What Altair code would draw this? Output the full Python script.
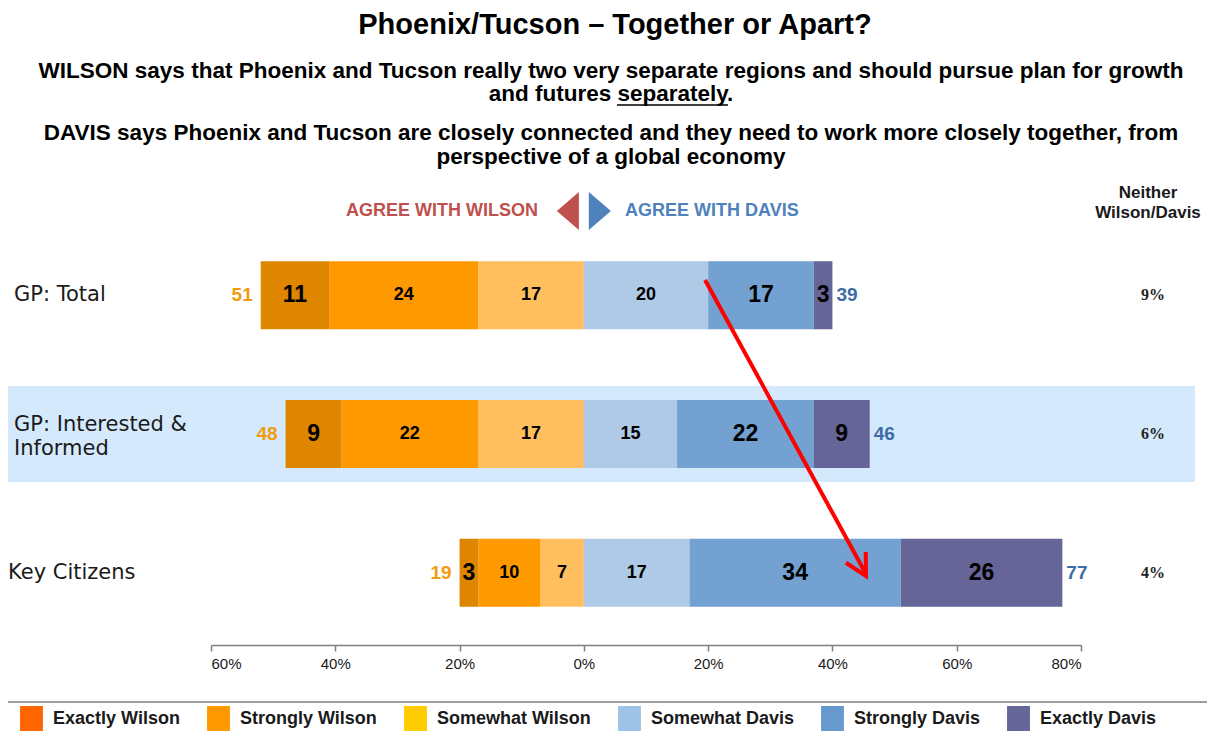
import altair as alt
import pandas as pd

# ---------------- data ----------------
rows = ["GP: Total", "GP: Interested & Informed", "Key Citizens"]
row_labels = ["GP: Total", "GP: Interested &\nInformed", "Key Citizens"]
categories = ["Exactly Wilson", "Strongly Wilson", "Somewhat Wilson",
              "Somewhat Davis", "Strongly Davis", "Exactly Davis"]
exactly_wilson = [11, 9, 3]
strongly_wilson = [24, 22, 10]
somewhat_wilson = [17, 17, 7]
somewhat_davis = [20, 15, 17]
strongly_davis = [17, 22, 34]
exactly_davis = [3, 9, 26]
total_wilson = [51, 48, 19]
total_davis = [39, 46, 77]
neither = ["9%", "6%", "4%"]
x_ticks = [-60, -40, -20, 0, 20, 40, 60, 80]

title_text = "Phoenix/Tucson \u2013 Together or Apart?"
wilson_lines = ["WILSON says that Phoenix and Tucson really two very separate regions and should pursue plan for growth",
                "and futures separately."]
davis_lines = ["DAVIS says Phoenix and Tucson are closely connected and they need to work more closely together, from",
               "perspective of a global economy"]

bar_colors = ["#DF8600", "#FF9900", "#FFBF5F", "#AFCAE6", "#72A1D2", "#656598"]
legend_colors = ["#FF6600", "#FF9900", "#FFCC00", "#9DC3E6", "#6699CC", "#666699"]
big_cats = ["Exactly Wilson", "Strongly Davis", "Exactly Davis"]

# arrow annotation (in axis units)
arrow_x = [19.5, 45.4]

# ---------------- tables ----------------
seg = []
for i, r in enumerate(rows):
    pos = 0
    for n, v in zip(["Somewhat Wilson", "Strongly Wilson", "Exactly Wilson"],
                    [somewhat_wilson[i], strongly_wilson[i], exactly_wilson[i]]):
        seg.append(dict(row=r, cat=n, value=v, start=-pos - v, end=-pos))
        pos += v
    pos = 0
    for n, v in zip(["Somewhat Davis", "Strongly Davis", "Exactly Davis"],
                    [somewhat_davis[i], strongly_davis[i], exactly_davis[i]]):
        seg.append(dict(row=r, cat=n, value=v, start=pos, end=pos + v))
        pos += v
seg = pd.DataFrame(seg)
seg["mid"] = (seg["start"] + seg["end"]) / 2
seg["big"] = seg["cat"].isin(big_cats)

tot = pd.DataFrame({
    "row": rows,
    "label": row_labels,
    "tw": total_wilson,
    "td": total_davis,
    "neither": neither,
    "left": [-(a + b + c) for a, b, c in zip(exactly_wilson, strongly_wilson, somewhat_wilson)],
    "right": [a + b + c for a, b, c in zip(somewhat_davis, strongly_davis, exactly_davis)],
})

legend_df = pd.DataFrame({"cat": categories})

SANS = "Liberation Sans"

xs = alt.Scale(domain=[-60, 80], range=[203, 1073], nice=False, zero=False, clamp=False)
ys = alt.Scale(domain=rows, range=[218, 634], paddingInner=0, paddingOuter=0)
Y = alt.Y("row:N", scale=ys, axis=None)

one = pd.DataFrame({"k": [0]})

# background band
band = alt.Chart(tot).transform_filter(alt.datum.row == rows[1]).mark_bar(
    size=96, orient="horizontal", color="#D5E9FC").encode(
    x=alt.value(0), x2=alt.value(1187), y=Y)

bars = alt.Chart(seg).mark_bar(size=68, orient="horizontal").encode(
    x=alt.X("start:Q", scale=xs,
            axis=alt.Axis(values=x_ticks, labelExpr="abs(datum.value) + '%'", title=None,
                          grid=False, domainColor="#7F7F7F", domainWidth=1.5,
                          tickColor="#7F7F7F", tickSize=6, tickWidth=1.5, labelPadding=5,
                          labelFont=SANS, labelFontSize=15, labelColor="#1a1a1a")),
    x2="end:Q",
    y=Y,
    color=alt.Color("cat:N", scale=alt.Scale(domain=categories, range=bar_colors), legend=None),
)

legend_dummy = alt.Chart(legend_df).mark_square(size=0, opacity=1, filled=True).encode(
    x=alt.value(600),
    y=alt.value(600),
    color=alt.Color("cat:N", scale=alt.Scale(domain=categories, range=legend_colors),
                    sort=categories,
                    legend=alt.Legend(orient="none", legendX=10.5, legendY=698,
                                      direction="horizontal", columns=6, columnPadding=25,
                                      symbolType="M-0.88,-1H0.88V1H-0.88Z", symbolSize=676,
                                      symbolStrokeWidth=0, symbolOpacity=1,
                                      labelFont=SANS, labelFontSize=18, labelFontWeight="bold",
                                      labelColor="#1a1a1a", labelOffset=8.5, labelLimit=300,
                                      title=None, padding=0)),
)

seg_big = alt.Chart(seg).transform_filter(alt.datum.big).mark_text(
    font=SANS, fontSize=23, fontWeight="bold", color="#000000", baseline="middle").encode(
    x=alt.X("mid:Q", scale=xs), y=Y, text="value:Q")
seg_small = alt.Chart(seg).transform_filter(~alt.datum.big).mark_text(
    font=SANS, fontSize=18, fontWeight="bold", color="#000000", baseline="middle").encode(
    x=alt.X("mid:Q", scale=xs), y=Y, text="value:Q")

tw_text = alt.Chart(tot).mark_text(font=SANS, fontSize=19, fontWeight="bold", color="#F29B0E",
                                   align="right", baseline="middle", dx=-8).encode(
    x=alt.X("left:Q", scale=xs), y=Y, text="tw:Q")
td_text = alt.Chart(tot).mark_text(font=SANS, fontSize=19, fontWeight="bold", color="#3C6DA6",
                                   align="left", baseline="middle", dx=4).encode(
    x=alt.X("right:Q", scale=xs), y=Y, text="td:Q")

row_lab_a = alt.Chart(tot).transform_filter(alt.datum.row == rows[0]).mark_text(
    font="DejaVu Sans", fontSize=21, color="#1a1a1a", align="left", baseline="middle").encode(
    x=alt.value(6), y=Y, text="label:N")
row_lab_b = alt.Chart(tot).transform_filter(alt.datum.row == rows[1]).mark_text(
    font="DejaVu Sans", fontSize=21, color="#1a1a1a", align="left", baseline="middle",
    lineBreak="\n", lineHeight=24, dy=-9).encode(x=alt.value(6), y=Y, text="label:N")
row_lab_c = alt.Chart(tot).transform_filter(alt.datum.row == rows[2]).mark_text(
    font="DejaVu Sans", fontSize=21, color="#1a1a1a", align="left", baseline="middle").encode(
    x=alt.value(0), y=Y, text="label:N")

neither_text = alt.Chart(tot).mark_text(font="Liberation Serif", fontSize=16, fontWeight="bold",
                                        color="#222222", baseline="middle").encode(
    x=alt.value(1145), y=Y, text="neither:N")
neither_head = alt.Chart(one).mark_text(font=SANS, fontSize=17, fontWeight="bold", color="#1a1a1a",
                                        baseline="middle", lineHeight=20).encode(
    x=alt.value(1140), y=alt.value(185), text=alt.value(["Neither", "Wilson/Davis"]))

title = alt.Chart(one).mark_text(font=SANS, fontSize=29, fontWeight="bold", color="#000000",
                                 baseline="middle").encode(
    x=alt.value(607), y=alt.value(16.5), text=alt.value(title_text))
sub1 = alt.Chart(one).mark_text(font=SANS, fontSize=22.5, fontWeight="bold", color="#000000",
                                baseline="middle", lineHeight=23).encode(
    x=alt.value(603), y=alt.value(63), text=alt.value(wilson_lines))
sub2 = alt.Chart(one).mark_text(font=SANS, fontSize=22.5, fontWeight="bold", color="#000000",
                                baseline="middle", lineHeight=24).encode(
    x=alt.value(603), y=alt.value(125), text=alt.value(davis_lines))
underline = alt.Chart(one).mark_rule(color="#000000", strokeWidth=1.5).encode(
    x=alt.value(609), x2=alt.value(720), y=alt.value(97))

agree_w = alt.Chart(one).mark_text(font=SANS, fontSize=18, fontWeight="bold", color="#C0504D",
                                   align="right", baseline="middle").encode(
    x=alt.value(530), y=alt.value(203), text=alt.value("AGREE WITH WILSON"))
agree_d = alt.Chart(one).mark_text(font=SANS, fontSize=18, fontWeight="bold", color="#4F81BD",
                                   align="left", baseline="middle").encode(
    x=alt.value(617), y=alt.value(203), text=alt.value("AGREE WITH DAVIS"))
tri_w = alt.Chart(one).mark_point(shape="M0,-1L0,1L-1.16,0Z", filled=True, size=1444, opacity=1,
                                  color="#C0504D", strokeWidth=0).encode(
    x=alt.datum(-0.8, scale=xs), y=alt.value(203))
tri_d = alt.Chart(one).mark_point(shape="M0,-1L0,1L1.16,0Z", filled=True, size=1444, opacity=1,
                                  color="#4F81BD", strokeWidth=0).encode(
    x=alt.datum(0.8, scale=xs), y=alt.value(203))

arrow = alt.Chart(one).mark_rule(color="#FF0000", strokeWidth=4).encode(
    x=alt.datum(arrow_x[0], scale=xs), x2=alt.datum(arrow_x[1]),
    y=alt.value(272), y2=alt.value(566))
arrow_head = alt.Chart(one).mark_point(shape="M-0.835,-0.551L0,0L-0.01,-1", filled=False, size=2304,
                                       opacity=1, color="#FF0000", strokeWidth=4,
                                       strokeJoin="miter").encode(
    x=alt.datum(arrow_x[1], scale=xs), y=alt.value(568))

legend_box = alt.Chart(one).mark_rect(filled=False, stroke="#7F7F7F", strokeWidth=1.5).encode(
    x=alt.value(-4), x2=alt.value(1215), y=alt.value(694), y2=alt.value(760))

chart = alt.layer(
    band, bars, legend_dummy, seg_big, seg_small, tw_text, td_text,
    row_lab_a, row_lab_b, row_lab_c, neither_text, neither_head,
    title, sub1, sub2, underline, agree_w, agree_d, tri_w, tri_d,
    arrow, arrow_head, legend_box,
).resolve_scale(color="independent").properties(
    width=1199, height=637,
    autosize=alt.AutoSizeParams(type="none"),
    padding={"left": 0, "top": 0, "right": 0, "bottom": 86},
).configure_view(strokeWidth=0)

chart.save("out.html", embed_options={"renderer": "svg", "actions": False})
